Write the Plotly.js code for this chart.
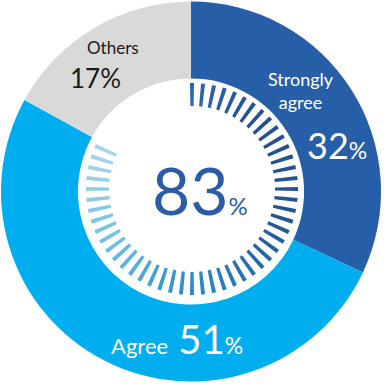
<!DOCTYPE html>
<html>
<head>
<meta charset="utf-8">
<script src="https://cdn.plot.ly/plotly-3.0.1.min.js"></script>
<style>html,body{margin:0;padding:0;background:#fff;}#chart{width:385px;height:385px;}</style>
</head>
<body>
<div id="chart"></div>
<script>
// ---- data ----
const labels = ["Strongly agree", "Agree", "Others"];
const values = [32, 51, 17];
const sliceColors = ["#275ea8", "#00aeef", "#d9d9d9"];
const centerValue = 83;          // Strongly agree + Agree
const tickTotal = 60;            // decorative ticks per full circle
const tickStops = [               // gradient along the tick ring (fraction of circle, color)
  [0.00, [44, 104, 176]],
  [0.12, [35, 80, 143]],
  [0.30, [36, 84, 148]],
  [0.40, [38, 110, 178]],
  [0.52, [45, 145, 208]],
  [0.65, [110, 190, 228]],
  [0.83, [170, 216, 238]]
];

function lerpColor(f) {
  for (let i = 0; i < tickStops.length - 1; i++) {
    const [f0, c0] = tickStops[i], [f1, c1] = tickStops[i + 1];
    if (f <= f1) {
      const t = (f - f0) / (f1 - f0);
      return 'rgb(' + c0.map((v, k) => Math.round(v + (c1[k] - v) * t)).join(',') + ')';
    }
  }
  const c = tickStops[tickStops.length - 1][1];
  return 'rgb(' + c.join(',') + ')';
}

const nTicks = Math.round(centerValue / 100 * tickTotal);
const tickTheta = [], tickR = [], tickBase = [], tickColors = [];
for (let i = 0; i < nTicks; i++) {
  const f = i / tickTotal;
  tickTheta.push(f * 360);
  tickR.push(23);
  tickBase.push(83);
  tickColors.push(lerpColor(f));
}

const W = 385;
const px = v => v / W;
const py = v => 1 - v / W;

const pie = {
  type: 'pie',
  labels: labels,
  values: values,
  sort: false,
  direction: 'clockwise',
  rotation: 0,
  hole: 0.595,
  textinfo: 'none',
  hoverinfo: 'none',
  marker: {colors: sliceColors, line: {width: 0}},
  domain: {x: [px(1), px(381)], y: [py(381.5), py(1.5)]},
  showlegend: false
};

const ticks = {
  type: 'barpolar',
  theta: tickTheta,
  r: tickR,
  base: tickBase,
  width: 2.2,
  marker: {color: tickColors, line: {width: 0}},
  hoverinfo: 'none',
  showlegend: false,
  subplot: 'polar'
};

const FONT = 'Lato, Roboto, "Liberation Sans", sans-serif';
const ann = (x, y, text, size, color) => ({
  xref: 'paper', yref: 'paper', x: px(x), y: py(y),
  xanchor: 'center', yanchor: 'middle', showarrow: false,
  text: text, font: {family: FONT, size: size, color: color}
});

const layout = {
  width: 385, height: 385,
  margin: {l: 0, r: 0, t: 0, b: 0},
  paper_bgcolor: '#ffffff',
  showlegend: false,
  polar: {
    domain: {x: [px(72), px(312)], y: [py(309), py(69)]},
    bgcolor: 'rgba(0,0,0,0)',
    hole: 0,
    radialaxis: {visible: false, range: [0, 120]},
    angularaxis: {visible: false, rotation: 90, direction: 'clockwise'}
  },
  annotations: [
    ann(200, 190, centerValue + "<span style='font-size:24px'>%</span>", 66, '#2a5ca8'),
    ann(301, 91, "Strongly<br>agree", 18, '#ffffff'),
    ann(337, 145, values[0] + "<span style='font-size:23px'>%</span>", 36, '#ffffff'),
    ann(113, 47, "Others", 17, '#1a1a1a'),
    ann(95, 78, values[2] + "%", 26, '#1a1a1a'),
    ann(177, 339, "<span style='font-size:22px'>Agree</span> " + values[1] + "<span style='font-size:23px'>%</span>", 40, '#ffffff')
  ]
};

Plotly.newPlot('chart', [ticks, pie], layout, {staticPlot: true, displayModeBar: false});
</script>
</body>
</html>
